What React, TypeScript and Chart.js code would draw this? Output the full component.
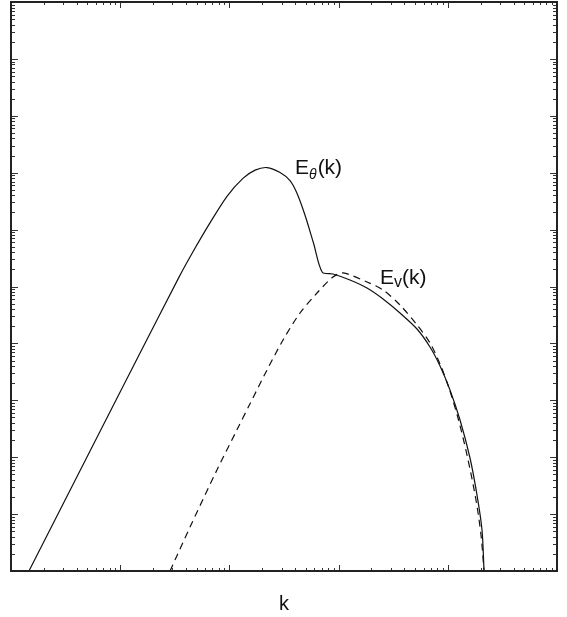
import React, { useEffect, useRef } from "react";
import { Chart, registerables } from "chart.js";

Chart.register(...registerables);

const kTheta = [1.46, 6.53, 15.2, 34.1, 46.4, 66.4, 95.1, 133, 172, 221, 291, 359, 413, 492, 589, 709, 889, 1271, 1820, 2553, 3650, 5225, 6870, 8490, 10470, 12940, 15970, 18500, 20570, 21470];
const eTheta = [1e-10, 2.83e-8, 6.78e-7, 1.39e-5, 4.07e-5, 1.31e-4, 3.85e-4, 7.94e-4, 1.11e-3, 1.23e-3, 1.01e-3, 7.29e-4, 4.49e-4, 1.81e-4, 5.81e-5, 1.78e-5, 1.66e-5, 1.3e-5, 9.4e-6, 6.03e-6, 3.42e-6, 1.79e-6, 8.65e-7, 4.01e-7, 1.52e-7, 4.51e-8, 9.68e-9, 2.17e-9, 5.26e-10, 1e-10];

const kV = [28.6, 43.6, 76.9, 117, 154, 221, 310, 443, 634, 889, 1097, 1820, 2553, 3650, 5225, 6870, 8490, 10260, 12400, 15000, 18120, 20140, 21470];
const eV = [1e-10, 5.93e-10, 5.96e-9, 3.0e-8, 8.61e-8, 3.41e-7, 1.15e-6, 3.42e-6, 7.69e-6, 1.47e-5, 1.73e-5, 1.2e-5, 8.68e-6, 4.73e-6, 2.11e-6, 1.02e-6, 4.34e-7, 1.64e-7, 4.89e-8, 1.09e-8, 1.77e-9, 4.29e-10, 1e-10];

const xRange = [1, 1e5];
const yRange = [1e-10, 1];

const labelTheta = { k: 399, e: 9.5e-4 };
const labelV = { k: 2394, e: 1.11e-5 };
const xTitle = "k";

const FONT = "'Liberation Sans', Arial, sans-serif";

const framePlugin = {
  id: "frameTicks",
  afterDraw(chart: any) {
    const ctx = chart.ctx;
    const { left, right, top, bottom } = chart.chartArea;
    const xs = chart.scales.x;
    const ys = chart.scales.y;
    ctx.save();
    ctx.strokeStyle = "#333";
    ctx.lineWidth = 1;
    const decadesX = [Math.log10(xRange[0]), Math.log10(xRange[1])];
    for (let d = decadesX[0]; d < decadesX[1]; d++) {
      for (let m = 1; m <= 9; m++) {
        const v = m * Math.pow(10, d);
        if (v <= xRange[0] || v >= xRange[1]) continue;
        const px = Math.round(xs.getPixelForValue(v)) + 0.5;
        const len = m === 1 ? 6 : 3;
        ctx.beginPath();
        ctx.moveTo(px, bottom);
        ctx.lineTo(px, bottom - len);
        ctx.moveTo(px, top);
        ctx.lineTo(px, top + len);
        ctx.stroke();
      }
    }
    const decadesY = [Math.log10(yRange[0]), Math.log10(yRange[1])];
    for (let d = decadesY[0]; d < decadesY[1]; d++) {
      for (let m = 1; m <= 9; m++) {
        const v = m * Math.pow(10, d);
        if (v <= yRange[0] || v >= yRange[1]) continue;
        const py = Math.round(ys.getPixelForValue(v)) + 0.5;
        const len = m === 1 ? 7 : 4;
        ctx.beginPath();
        ctx.moveTo(left, py);
        ctx.lineTo(left + len, py);
        ctx.moveTo(right, py);
        ctx.lineTo(right - len, py);
        ctx.stroke();
      }
    }
    ctx.strokeStyle = "#222";
    ctx.lineWidth = 2;
    ctx.strokeRect(left, top, right - left, bottom - top);

    ctx.fillStyle = "#111";
    ctx.textBaseline = "alphabetic";
    ctx.textAlign = "left";
    let x = xs.getPixelForValue(labelTheta.k);
    let y = ys.getPixelForValue(labelTheta.e);
    ctx.font = `21px ${FONT}`;
    ctx.fillText("E", x, y);
    x += ctx.measureText("E").width;
    ctx.font = `italic 14px ${FONT}`;
    ctx.fillText("θ", x, y + 5);
    x += ctx.measureText("θ").width + 1;
    ctx.font = `21px ${FONT}`;
    ctx.fillText("(k)", x, y);
    x = xs.getPixelForValue(labelV.k);
    y = ys.getPixelForValue(labelV.e);
    ctx.font = `21px ${FONT}`;
    ctx.fillText("E", x, y);
    x += ctx.measureText("E").width;
    ctx.font = `16px ${FONT}`;
    ctx.fillText("v", x, y + 3);
    x += ctx.measureText("v").width;
    ctx.font = `21px ${FONT}`;
    ctx.fillText("(k)", x, y);
    ctx.textAlign = "center";
    ctx.font = `20px ${FONT}`;
    ctx.fillText(xTitle, (left + right) / 2, 610);
    ctx.restore();
  },
};

export default function App() {
  const ref = useRef<HTMLCanvasElement | null>(null);
  useEffect(() => {
    if (!ref.current) return;
    const chart = new Chart(ref.current, {
      type: "line",
      data: {
        datasets: [
          {
            label: "E_theta",
            data: kTheta.map((k, i) => ({ x: k, y: eTheta[i] })),
            borderColor: "#111",
            borderWidth: 1.2,
            pointRadius: 0,
            fill: false,
            tension: 0.3,
          },
          {
            label: "E_v",
            data: kV.map((k, i) => ({ x: k, y: eV[i] })),
            borderColor: "#111",
            borderWidth: 1.2,
            borderDash: [7, 5],
            pointRadius: 0,
            fill: false,
            tension: 0.3,
          },
        ],
      },
      options: {
        animation: false,
        responsive: false,
        maintainAspectRatio: false,
        layout: { padding: { left: 11, right: 10, top: 2, bottom: 46 } },
        plugins: { legend: { display: false }, tooltip: { enabled: false } },
        events: [],
        scales: {
          x: { type: "logarithmic", min: xRange[0], max: xRange[1], display: false },
          y: { type: "logarithmic", min: yRange[0], max: yRange[1], display: false },
        },
      },
      plugins: [framePlugin],
    });
    return () => chart.destroy();
  }, []);
  return (
    <div style={{ position: "fixed", left: 0, top: 0, width: 567, height: 617, background: "#fff" }}>
      <canvas ref={ref} width={567} height={617} style={{ width: 567, height: 617, display: "block" }} />
    </div>
  );
}
